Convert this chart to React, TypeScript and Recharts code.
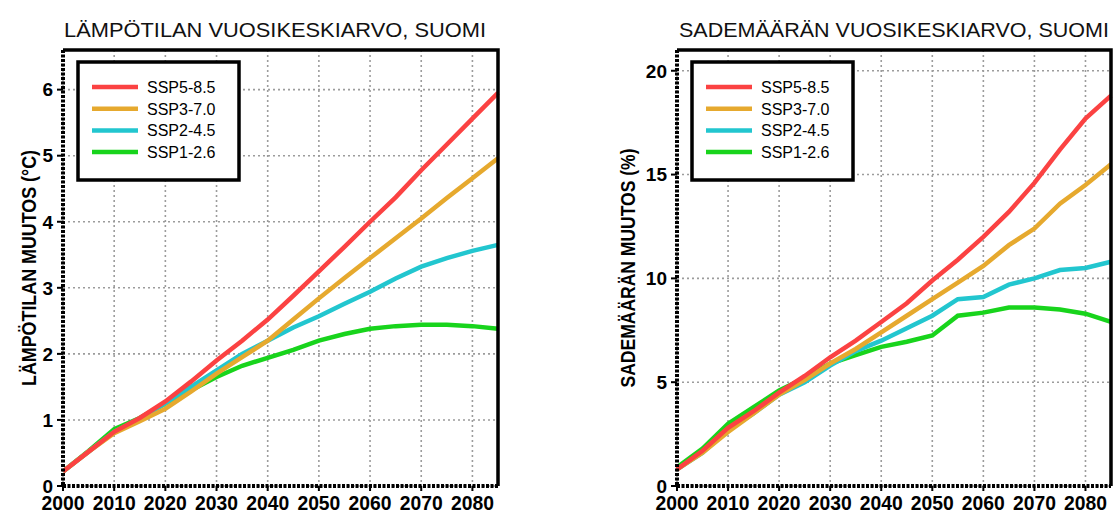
import React from "react";
import { CartesianGrid, Line, LineChart, XAxis, YAxis } from "recharts";

// scenario names and colours
const scenarios = ["SSP5-8.5", "SSP3-7.0", "SSP2-4.5", "SSP1-2.6"];
const colors = ["#fb4242", "#e6a92e", "#22c6cf", "#18d41c"];

const years = [
  2000, 2005, 2010, 2015, 2020, 2025, 2030, 2035, 2040, 2045, 2050, 2055, 2060,
  2065, 2070, 2075, 2080, 2085,
];
const xTicks = [2000, 2010, 2020, 2030, 2040, 2050, 2060, 2070, 2080];

// temperature change (°C)
const tempSsp585 = [0.22, 0.52, 0.82, 1.03, 1.28, 1.58, 1.9, 2.2, 2.52, 2.88, 3.25, 3.62, 4.0, 4.37, 4.78, 5.17, 5.56, 5.95];
const tempSsp370 = [0.22, 0.52, 0.8, 0.98, 1.17, 1.43, 1.7, 1.95, 2.2, 2.52, 2.84, 3.15, 3.45, 3.75, 4.05, 4.36, 4.66, 4.96];
const tempSsp245 = [0.22, 0.52, 0.82, 1.02, 1.25, 1.5, 1.75, 2.0, 2.2, 2.4, 2.57, 2.76, 2.94, 3.14, 3.32, 3.45, 3.56, 3.65];
const tempSsp126 = [0.22, 0.53, 0.86, 1.03, 1.25, 1.45, 1.65, 1.82, 1.94, 2.06, 2.2, 2.3, 2.38, 2.42, 2.44, 2.44, 2.42, 2.38];
const tempTicks = [0, 1, 2, 3, 4, 5, 6];

// precipitation change (%)
const precSsp585 = [0.8, 1.7, 2.8, 3.6, 4.5, 5.3, 6.2, 7.0, 7.9, 8.8, 9.9, 10.9, 12.0, 13.2, 14.6, 16.2, 17.7, 18.8];
const precSsp370 = [0.8, 1.6, 2.6, 3.5, 4.4, 5.1, 5.9, 6.6, 7.4, 8.2, 9.0, 9.8, 10.6, 11.6, 12.4, 13.6, 14.5, 15.5];
const precSsp245 = [0.8, 1.6, 2.7, 3.5, 4.4, 5.0, 5.8, 6.5, 7.0, 7.6, 8.2, 9.0, 9.1, 9.7, 10.0, 10.4, 10.5, 10.8];
const precSsp126 = [0.9, 1.8, 3.0, 3.8, 4.6, 5.2, 5.9, 6.3, 6.7, 6.95, 7.25, 8.2, 8.35, 8.6, 8.6, 8.5, 8.3, 7.9];
const precTicks = [0, 5, 10, 15, 20];

const keys = ["s585", "s370", "s245", "s126"];

function buildRows(series: number[][]) {
  return years.map((year, i) => {
    const row: Record<string, number> = { year };
    keys.forEach((k, j) => (row[k] = series[j][i]));
    return row;
  });
}

const tempData = buildRows([tempSsp585, tempSsp370, tempSsp245, tempSsp126]);
const precData = buildRows([precSsp585, precSsp370, precSsp245, precSsp126]);

const sans = "'Liberation Sans', Arial, sans-serif";

// x labels are tall and narrow in the original, squeeze them
function YearTick({ x, y, payload }: any) {
  return (
    <text
      x={x}
      y={y}
      dy={15}
      textAnchor="middle"
      fontFamily={sans}
      fontWeight={700}
      fontSize={21}
      textLength={43}
      lengthAdjust="spacingAndGlyphs"
      fill="#000"
    >
      {payload.value}
    </text>
  );
}

type PanelProps = {
  data: Record<string, number>[];
  yTicks: number[];
  yMax: number;
  width: number;
  yAxisWidth: number;
  rightMargin: number;
};

function Panel({ data, yTicks, yMax, width, yAxisWidth, rightMargin }: PanelProps) {
  const axisLine = { stroke: "#000", strokeWidth: 4, strokeDasharray: "3 1.5" };
  const tickLine = { stroke: "#000", strokeWidth: 2 };
  return (
    <LineChart
      width={width}
      height={515}
      data={data}
      margin={{ top: 50, right: rightMargin, bottom: 0, left: 0 }}
    >
      <CartesianGrid stroke="#9c9c9c" strokeWidth={1.6} strokeDasharray="2 3" />
      <XAxis
        dataKey="year"
        type="number"
        domain={[2000, 2085]}
        ticks={xTicks}
        height={29}
        tickSize={5}
        tickMargin={4}
        axisLine={axisLine}
        tickLine={tickLine}
        tick={<YearTick />}
        interval={0}
      />
      <YAxis
        type="number"
        domain={[0, yMax]}
        ticks={yTicks}
        width={yAxisWidth}
        tickSize={6}
        tickMargin={4}
        axisLine={axisLine}
        tickLine={tickLine}
        tick={{ fontFamily: sans, fontWeight: 700, fontSize: 19, fill: "#000" }}
        interval={0}
      />
      {[3, 2, 1, 0].map((j) => (
        <Line
          key={keys[j]}
          type="linear"
          dataKey={keys[j]}
          stroke={colors[j]}
          strokeWidth={4.5}
          dot={false}
          isAnimationActive={false}
        />
      ))}
    </LineChart>
  );
}

function LegendBox({ x, y }: { x: number; y: number }) {
  return (
    <g>
      <rect x={x} y={y} width={161} height={118} fill="#fff" stroke="#000" strokeWidth={3.5} />
      {scenarios.map((name, i) => {
        const cy = y + 25 + i * 21.7;
        return (
          <g key={name}>
            <line x1={x + 14} x2={x + 60} y1={cy} y2={cy} stroke={colors[i]} strokeWidth={4.5} />
            <text x={x + 69} y={cy + 6} fontFamily={sans} fontSize={16} fill="#000">
              {name}
            </text>
          </g>
        );
      })}
    </g>
  );
}

export default function App() {
  return (
    <div style={{ position: "absolute", left: 0, top: 0, width: 1116, height: 515, background: "#fff" }}>
      <div style={{ position: "absolute", left: 0, top: 0 }}>
        <Panel data={tempData} yTicks={tempTicks} yMax={6.6} width={520} yAxisWidth={63} rightMargin={22} />
      </div>
      <div style={{ position: "absolute", left: 560, top: 0 }}>
        <Panel data={precData} yTicks={precTicks} yMax={21} width={556} yAxisWidth={117} rightMargin={5} />
      </div>
      <svg
        width={1116}
        height={515}
        style={{ position: "absolute", left: 0, top: 0, pointerEvents: "none" }}
      >
        <path d="M63,50 H498 V486" fill="none" stroke="#000" strokeWidth={3.5} />
        <path d="M677,50 H1111 V486" fill="none" stroke="#000" strokeWidth={3.5} />
        <text x={64} y={37} fontFamily={sans} fontSize={21} textLength={422} lengthAdjust="spacingAndGlyphs" fill="#111">
          LÄMPÖTILAN VUOSIKESKIARVO, SUOMI
        </text>
        <text x={679} y={37} fontFamily={sans} fontSize={21} textLength={430} lengthAdjust="spacingAndGlyphs" fill="#111">
          SADEMÄÄRÄN VUOSIKESKIARVO, SUOMI
        </text>
        <text
          transform="translate(36,268) rotate(-90)"
          textAnchor="middle"
          fontFamily={sans}
          fontWeight={700}
          fontSize={20}
          textLength={236}
          lengthAdjust="spacingAndGlyphs"
          fill="#000"
        >
          LÄMPÖTILAN MUUTOS (°C)
        </text>
        <text
          transform="translate(635,268) rotate(-90)"
          textAnchor="middle"
          fontFamily={sans}
          fontWeight={700}
          fontSize={20}
          textLength={239}
          lengthAdjust="spacingAndGlyphs"
          fill="#000"
        >
          SADEMÄÄRÄN MUUTOS (%)
        </text>
        <LegendBox x={78} y={62} />
        <LegendBox x={692} y={62} />
      </svg>
    </div>
  );
}
